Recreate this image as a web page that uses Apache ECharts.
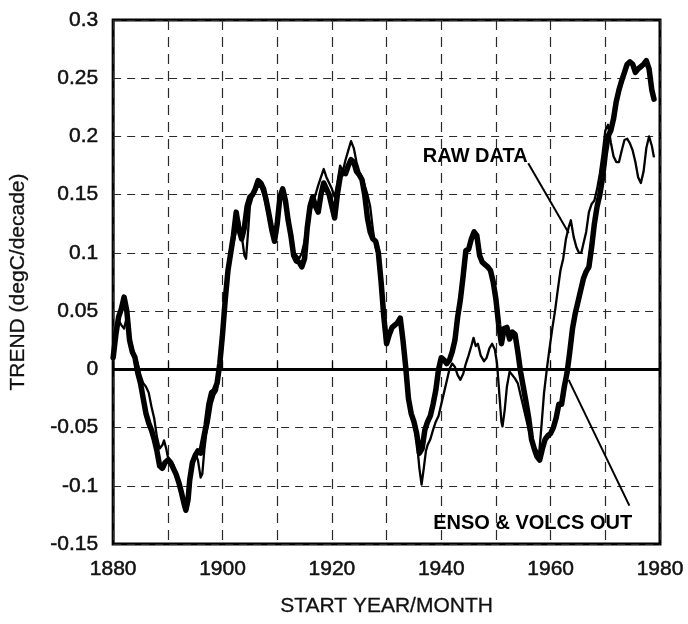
<!DOCTYPE html>
<html><head><meta charset="utf-8">
<script src="https://cdn.jsdelivr.net/npm/echarts@6/dist/echarts.min.js"></script>
<style>html,body{margin:0;padding:0;background:#fff}#c{width:688px;height:624px}</style>
</head><body><div id="c"></div>
<script>
// ENSO & VOLCS OUT (thick line)
var ensoYears = [1880,1880.5,1881,1881.5,1882,1882.5,1883,1883.5,1884,1884.5,1885,1885.5,1886,1886.5,1887,1887.5,1888,1888.5,1889,1889.5,1890,1890.5,1891,1891.5,1892,1892.5,1893,1893.3,1893.7,1894,1894.5,1895,1895.5,1896,1896.5,1897,1897.5,1898,1898.5,1899,1899.5,1900,1900.5,1901,1901.5,1902,1902.5,1903,1903.5,1904,1904.5,1905,1905.5,1906,1906.5,1907,1907.5,1908,1908.5,1909,1909.5,1910,1910.5,1911,1911.5,1912,1912.5,1913,1913.5,1914,1914.5,1915,1915.5,1916,1916.5,1917,1917.5,1918,1918.5,1919,1919.5,1920,1920.5,1921,1921.5,1922,1922.5,1923,1923.5,1924,1924.5,1925,1925.5,1926,1926.5,1927,1927.5,1928,1928.5,1929,1929.5,1930,1930.5,1931,1931.5,1932,1932.5,1933,1933.5,1934,1934.5,1935,1935.5,1936,1936.5,1937,1937.5,1938,1938.5,1939,1939.5,1940,1940.5,1941,1941.5,1942,1942.5,1943,1943.5,1944,1944.5,1945,1945.5,1946,1946.5,1947,1947.5,1948,1948.5,1949,1949.5,1950,1950.5,1951,1951.5,1952,1952.5,1953,1953.5,1954,1954.5,1955,1955.5,1956,1956.5,1957,1957.5,1958,1958.5,1959,1959.5,1960,1960.5,1961,1961.5,1962,1962.5,1963,1963.5,1964,1964.5,1965,1965.5,1966,1966.5,1967,1967.5,1968,1968.5,1969,1969.5,1970,1970.5,1971,1971.5,1972,1972.5,1973,1973.5,1974,1974.5,1975,1975.5,1976,1976.5,1977,1977.5,1978,1978.5,1978.9];
var ensoValues = [0.010,0.030,0.045,0.052,0.062,0.050,0.025,0.015,0.010,-0.003,-0.012,-0.025,-0.038,-0.046,-0.052,-0.060,-0.070,-0.083,-0.085,-0.080,-0.078,-0.080,-0.085,-0.090,-0.097,-0.106,-0.116,-0.121,-0.112,-0.095,-0.080,-0.074,-0.070,-0.072,-0.060,-0.048,-0.030,-0.020,-0.018,-0.012,0.005,0.030,0.060,0.085,0.100,0.115,0.135,0.120,0.112,0.122,0.140,0.148,0.150,0.155,0.162,0.160,0.155,0.145,0.133,0.120,0.110,0.125,0.148,0.155,0.145,0.128,0.115,0.098,0.093,0.092,0.088,0.095,0.122,0.140,0.148,0.140,0.135,0.150,0.160,0.155,0.150,0.140,0.130,0.150,0.165,0.170,0.168,0.175,0.180,0.178,0.170,0.167,0.163,0.150,0.130,0.118,0.112,0.110,0.100,0.075,0.045,0.022,0.030,0.036,0.038,0.040,0.044,0.025,0.002,-0.025,-0.038,-0.045,-0.055,-0.072,-0.068,-0.052,-0.045,-0.040,-0.030,-0.018,0.000,0.010,0.008,0.005,0.008,0.015,0.025,0.045,0.060,0.080,0.102,0.103,0.112,0.118,0.115,0.098,0.092,0.090,0.088,0.085,0.075,0.060,0.038,0.022,0.035,0.036,0.026,0.032,0.030,0.015,-0.002,-0.015,-0.028,-0.042,-0.060,-0.068,-0.075,-0.078,-0.068,-0.060,-0.057,-0.055,-0.050,-0.042,-0.030,-0.030,-0.015,-0.003,0.015,0.035,0.048,0.058,0.068,0.078,0.084,0.088,0.105,0.125,0.140,0.150,0.165,0.185,0.200,0.205,0.215,0.230,0.240,0.248,0.255,0.262,0.264,0.262,0.255,0.258,0.260,0.262,0.265,0.258,0.240,0.232];
// RAW DATA (thin line)
var rawYears = [1880,1880.5,1881,1881.5,1882,1882.5,1883,1883.5,1884,1884.5,1885,1885.5,1886,1886.5,1887,1887.5,1888,1888.5,1889,1889.3,1889.7,1890,1890.5,1891,1891.5,1892,1892.5,1893,1893.3,1893.7,1894,1894.5,1895,1895.5,1896,1896.3,1896.7,1897,1897.5,1898,1898.5,1899,1899.5,1900,1900.5,1901,1901.5,1902,1902.5,1903,1903.5,1904,1904.3,1904.7,1905,1905.5,1906,1906.5,1907,1907.5,1908,1908.5,1909,1909.5,1910,1910.5,1911,1911.5,1912,1912.5,1913,1913.5,1914,1914.5,1915,1915.5,1916,1916.5,1917,1917.5,1918,1918.5,1919,1919.5,1920,1920.5,1921,1921.5,1922,1922.5,1923,1923.5,1924,1924.5,1925,1925.5,1926,1926.5,1927,1927.5,1928,1928.5,1929,1929.5,1930,1930.5,1931,1931.5,1932,1932.5,1933,1933.5,1934,1934.5,1935,1935.5,1936,1936.4,1936.8,1937.2,1937.5,1938,1938.5,1939,1939.5,1940,1940.5,1941,1941.5,1942,1942.5,1943,1943.5,1944,1944.5,1945,1945.5,1945.9,1946.3,1946.7,1947.2,1947.8,1948.3,1948.8,1949.3,1949.8,1950.2,1950.6,1951,1951.2,1951.6,1952,1952.5,1953,1953.5,1954,1954.5,1955,1955.5,1956,1956.5,1957,1957.5,1957.9,1958.3,1958.8,1959.3,1959.8,1960.3,1960.8,1961.3,1961.8,1962.3,1962.8,1963.3,1963.7,1964.2,1964.7,1965.2,1965.6,1966,1966.5,1967,1967.5,1968,1968.5,1969,1969.5,1970,1970.5,1971,1971.5,1972,1972.5,1973,1973.5,1974,1974.5,1975,1975.5,1976,1976.5,1977,1977.5,1978,1978.5,1978.9];
var rawValues = [0.015,0.035,0.042,0.038,0.035,0.045,0.030,0.018,0.012,0.005,-0.005,-0.012,-0.015,-0.020,-0.032,-0.042,-0.058,-0.068,-0.065,-0.061,-0.068,-0.075,-0.078,-0.082,-0.088,-0.095,-0.104,-0.113,-0.118,-0.110,-0.095,-0.082,-0.072,-0.078,-0.093,-0.090,-0.068,-0.056,-0.045,-0.030,-0.022,-0.018,0.000,0.025,0.055,0.082,0.098,0.108,0.120,0.128,0.115,0.098,0.095,0.120,0.140,0.148,0.152,0.158,0.156,0.150,0.140,0.128,0.118,0.112,0.128,0.145,0.152,0.140,0.125,0.110,0.100,0.098,0.095,0.100,0.110,0.125,0.135,0.142,0.150,0.158,0.165,0.172,0.165,0.160,0.155,0.148,0.160,0.175,0.170,0.180,0.188,0.196,0.190,0.178,0.170,0.165,0.158,0.150,0.140,0.120,0.105,0.098,0.072,0.045,0.025,0.030,0.035,0.037,0.040,0.043,0.025,0.000,-0.025,-0.035,-0.045,-0.060,-0.085,-0.099,-0.085,-0.070,-0.065,-0.060,-0.052,-0.045,-0.040,-0.030,-0.020,-0.010,0.000,0.005,0.002,-0.005,-0.009,-0.004,0.005,0.012,0.020,0.027,0.020,0.022,0.012,0.007,0.010,0.018,0.022,0.017,0.005,-0.020,-0.045,-0.049,-0.035,-0.015,-0.002,-0.005,-0.008,-0.012,-0.022,-0.032,-0.042,-0.052,-0.060,-0.066,-0.070,-0.072,-0.050,-0.020,0.000,0.018,0.035,0.050,0.068,0.085,0.095,0.112,0.122,0.128,0.114,0.105,0.100,0.100,0.108,0.118,0.135,0.142,0.145,0.155,0.168,0.185,0.205,0.210,0.195,0.183,0.178,0.178,0.188,0.197,0.198,0.194,0.188,0.178,0.165,0.160,0.170,0.190,0.200,0.192,0.182];
var xTickLabels = ['1880','1900','1920','1940','1960','1980'];
// annotations: [text, textYear, textValue, lineFromYear, lineFromValue, lineToYear, lineToValue]
var rawNote = ['RAW DATA', 1955.8, 0.183, 1955.9, 0.177, 1963.3, 0.117];
var ensoNote = ['ENSO & VOLCS OUT', 1974.9, -0.132, 1963.3, -0.009, 1974.4, -0.117];

function pairs(xs, ys){ return xs.map(function(x,i){ return [x, ys[i]]; }); }
var FONT = '"Liberation Sans", Arial, Helvetica, sans-serif';
var chart = echarts.init(document.getElementById('c'), null, {renderer:'canvas'});
var hDash = {color:'#2a2a2a', width:1.2, type:[8,6]};
var vDash = {color:'#2a2a2a', width:1.2, type:[10,7]};
var tickText = {fontFamily:FONT, fontSize:21, color:'#111', textBorderColor:'#111', textBorderWidth:0.5};
chart.setOption({
  animation:false,
  grid:{left:110, right:28, top:20, bottom:80, show:true, borderColor:'#000', borderWidth:3, backgroundColor:'transparent'},
  xAxis:{type:'value', min:1880, max:1980, interval:10,
    name:'START YEAR/MONTH', nameLocation:'middle', nameGap:52,
    nameTextStyle:{fontFamily:FONT, fontSize:21, color:'#111', textBorderColor:'#111', textBorderWidth:0.3},
    axisLine:{show:false},
    axisTick:{show:true, inside:true, length:8, lineStyle:{color:'#000', width:1.2}},
    axisLabel:Object.assign({margin:15,
      formatter:function(v){ var s=String(v); return xTickLabels.indexOf(s)>=0 ? s : ''; }}, tickText),
    splitLine:{show:true, lineStyle:vDash}},
  yAxis:{type:'value', min:-0.15, max:0.3, interval:0.05,
    name:'TREND (degC/decade)', nameLocation:'middle', nameGap:84, nameRotate:90,
    nameTextStyle:{fontFamily:FONT, fontSize:21, color:'#111', textBorderColor:'#111', textBorderWidth:0.3},
    axisLine:{show:false}, axisTick:{show:false},
    axisLabel:Object.assign({margin:15,
      formatter:function(v){ return String(Math.round(v*100)/100); }}, tickText),
    splitLine:{show:true, lineStyle:hDash}},
  series:[
    {type:'line', data:pairs(rawYears, rawValues), symbol:'none', smooth:false,
      lineStyle:{color:'#000', width:2.3, join:'round'}, z:3,
      markLine:{silent:true, symbol:'none', label:{show:false},
        lineStyle:{color:'#000', width:2, type:'solid'},
        data:[
          [{coord:[rawNote[3], rawNote[4]]},{coord:[rawNote[5], rawNote[6]]}],
          [{coord:[ensoNote[3], ensoNote[4]]},{coord:[ensoNote[5], ensoNote[6]]}]
        ]}},
    {type:'line', data:pairs(ensoYears, ensoValues), symbol:'none', smooth:false,
      lineStyle:{color:'#000', width:5.5, join:'round', cap:'round'}, z:4,
      markLine:{silent:true, symbol:'none', label:{show:false},
        lineStyle:{color:'#000', width:3, type:'solid'},
        data:[{yAxis:0}]}}
  ]
});
function addNotes(){
  var g = [];
  [rawNote, ensoNote].forEach(function(n){
    var p = chart.convertToPixel({gridIndex:0}, [n[1], n[2]]);
    g.push({type:'text', x:p[0], y:p[1], z:10,
      style:{text:n[0], fontFamily:FONT, fontSize:20, fontWeight:'bold', fill:'#000', align:'right', verticalAlign:'middle'}});
  });
  chart.setOption({graphic:g});
}
addNotes();
</script></body></html>
